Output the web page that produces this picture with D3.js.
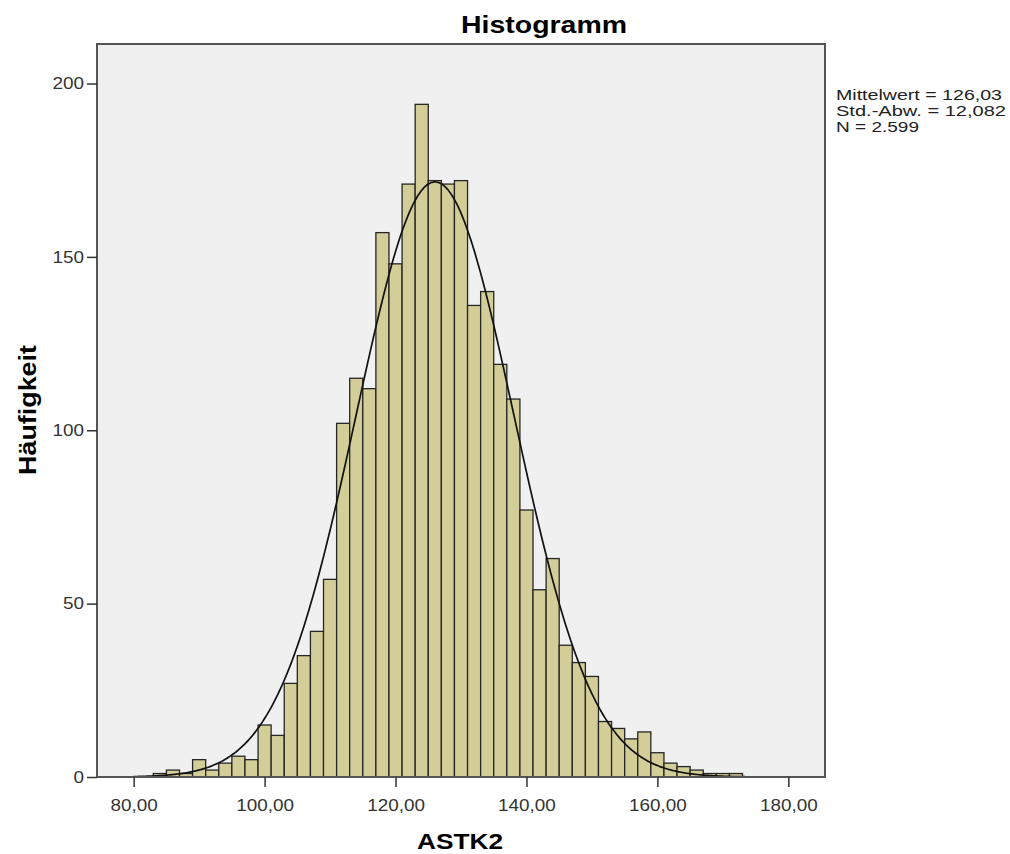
<!DOCTYPE html>
<html>
<head>
<meta charset="utf-8">
<script src="https://cdn.jsdelivr.net/npm/d3@7"></script>
<style>
  html, body { margin: 0; padding: 0; background: #ffffff; }
  svg { display: block; }
</style>
</head>
<body>
<svg id="chart" width="1010" height="854"></svg>
<script>
// ---- Data ----
const binCenters = [84, 86, 88, 90, 92, 94, 96, 98, 100, 102, 104, 106, 108, 110, 112, 114, 116, 118, 120, 122, 124, 126, 128, 130, 132, 134, 136, 138, 140, 142, 144, 146, 148, 150, 152, 154, 156, 158, 160, 162, 164, 166, 168, 170, 172];
const counts = [1, 2, 1, 5, 2, 4, 6, 5, 15, 12, 27, 35, 42, 57, 102, 115, 112, 157, 148, 171, 194, 172, 171, 172, 136, 140, 119, 109, 77, 54, 63, 38, 33, 29, 16, 14, 11, 13, 7, 4, 3, 2, 1, 1, 1];
const binWidth = 2;
const xTicks = [80, 100, 120, 140, 160, 180];
const yTicks = [0, 50, 100, 150, 200];
const meanVal = 126.03;
const sdVal = 12.082;
const nVal = 2599;
const statsLines = ["Mittelwert = 126,03", "Std.-Abw. = 12,082", "N = 2.599"];
const statsWidths = [166, 170, 83];
const titleText = "Histogramm";
const xLabel = "ASTK2";
const yLabel = "Häufigkeit";

// ---- Layout ----
const L = 97, R = 825, T = 44, B = 777;
const svg = d3.select("#chart");
const font = "'Liberation Sans', Arial, sans-serif";

const x = d3.scaleLinear().domain([74.4, 185.6]).range([L, R]);
const y = d3.scaleLinear().domain([0, 211.4]).range([B, T]);

function stretch(sel, factor) {
  sel.each(function () {
    const w = this.getComputedTextLength();
    d3.select(this).attr("textLength", w * factor).attr("lengthAdjust", "spacingAndGlyphs");
  });
}

// plot background
svg.append("rect").attr("x", L).attr("y", T).attr("width", R - L).attr("height", B - T)
  .attr("fill", "#f0f0f0");

// bars
const bins = binCenters.map((c, i) => ({ c, n: counts[i] }));
svg.append("g").selectAll("rect").data(bins).join("rect")
  .attr("x", d => x(d.c - binWidth / 2))
  .attr("y", d => y(d.n))
  .attr("width", d => x(d.c + binWidth / 2) - x(d.c - binWidth / 2))
  .attr("height", d => y(0) - y(d.n))
  .attr("fill", "#d3ce97")
  .attr("stroke", "#262626")
  .attr("stroke-width", 1.3);

// normal curve
const pts = d3.range(80, 174.01, 0.25).map(v => [v,
  nVal * binWidth * Math.exp(-0.5 * Math.pow((v - meanVal) / sdVal, 2)) / (sdVal * Math.sqrt(2 * Math.PI))]);
svg.append("path").datum(pts)
  .attr("d", d3.line().x(d => x(d[0])).y(d => y(d[1])).curve(d3.curveBasis))
  .attr("fill", "none").attr("stroke", "#111").attr("stroke-width", 1.7);

// frame
svg.append("rect").attr("x", L).attr("y", T).attr("width", R - L).attr("height", B - T)
  .attr("fill", "none").attr("stroke", "#555").attr("stroke-width", 2);

// axes
const xAxis = svg.append("g").attr("transform", `translate(0,${B})`)
  .call(d3.axisBottom(x).tickValues(xTicks).tickSize(10).tickSizeOuter(0)
    .tickFormat(d => d3.format(".2f")(d).replace(".", ",")));
xAxis.select(".domain").remove();
xAxis.selectAll("line").attr("stroke", "#333").attr("stroke-width", 1.5);
xAxis.selectAll("text").attr("font-family", font).attr("font-size", 16)
  .attr("fill", "#333").attr("y", 34).attr("dy", null);
stretch(xAxis.selectAll("text"), 1.18);

const yAxis = svg.append("g").attr("transform", `translate(${L},0)`)
  .call(d3.axisLeft(y).tickValues(yTicks).tickSize(10).tickSizeOuter(0));
yAxis.select(".domain").remove();
yAxis.selectAll("line").attr("stroke", "#333").attr("stroke-width", 1.5);
yAxis.selectAll("text").attr("font-family", font).attr("font-size", 16)
  .attr("fill", "#333").attr("x", -13);
stretch(yAxis.selectAll("text"), 1.18);

// titles
svg.append("text").attr("x", 544).attr("y", 33).attr("text-anchor", "middle")
  .attr("font-family", font).attr("font-size", 24).attr("font-weight", "bold")
  .attr("fill", "#000").attr("textLength", 166).attr("lengthAdjust", "spacingAndGlyphs")
  .text(titleText);
svg.append("text").attr("x", 460).attr("y", 849).attr("text-anchor", "middle")
  .attr("font-family", font).attr("font-size", 22).attr("font-weight", "bold")
  .attr("fill", "#000").attr("textLength", 86).attr("lengthAdjust", "spacingAndGlyphs")
  .text(xLabel);
svg.append("text").attr("transform", `translate(36,410) rotate(-90)`)
  .attr("text-anchor", "middle")
  .attr("font-family", font).attr("font-size", 23).attr("font-weight", "bold")
  .attr("fill", "#000").attr("textLength", 130).attr("lengthAdjust", "spacingAndGlyphs")
  .text(yLabel);

// stats
svg.append("g").selectAll("text").data(statsLines).join("text")
  .attr("x", 836).attr("y", (d, i) => 100 + i * 16)
  .attr("font-family", font).attr("font-size", 15.5).attr("fill", "#222")
  .attr("textLength", (d, i) => statsWidths[i]).attr("lengthAdjust", "spacingAndGlyphs")
  .text(d => d);
</script>
</body>
</html>
